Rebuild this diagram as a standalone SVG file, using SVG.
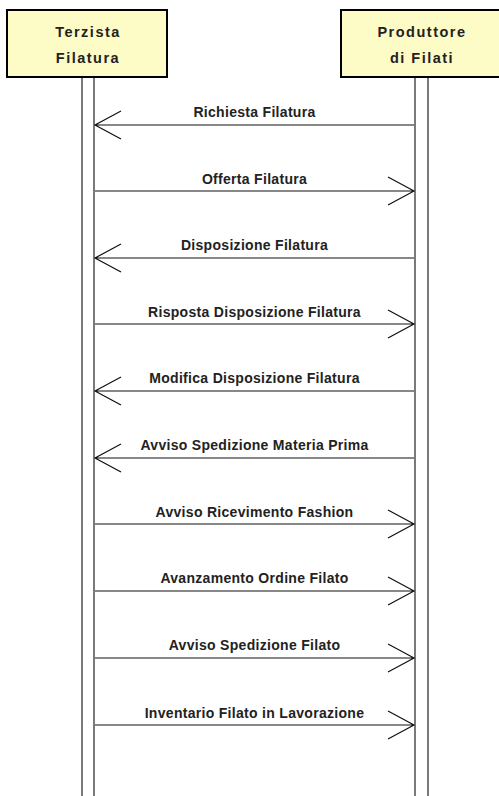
<svg xmlns="http://www.w3.org/2000/svg" width="499" height="796" viewBox="0 0 499 796">
<style>
.box{fill:#fdfbc6;stroke:#000;stroke-width:2}
.life{fill:#fff;stroke:#333;stroke-width:1.3}
.hdr{font-family:"Liberation Sans",Arial,sans-serif;font-size:14.5px;letter-spacing:1.5px;font-weight:bold;fill:#222;text-anchor:middle}
.lbl{font-family:"Liberation Sans",Arial,sans-serif;font-size:14px;letter-spacing:0.3px;font-weight:bold;fill:#222;text-anchor:middle}
.msg{stroke:#111;stroke-width:1.2;fill:none}
</style>
<rect width="499" height="796" fill="#fff"/>
<g id="terzista">
<rect class="life" x="82" y="77" width="12" height="730"/>
<rect class="box" x="7" y="10" width="160" height="67"/>
<text class="hdr" x="88" y="37">Terzista</text>
<text class="hdr" x="88" y="63">Filatura</text>
</g>
<g id="produttore">
<rect class="life" x="415" y="77" width="13" height="730"/>
<rect class="box" x="341" y="10" width="160" height="67"/>
<text class="hdr" x="422" y="37">Produttore</text>
<text class="hdr" x="422" y="63">di Filati</text>
</g>
<g id="connectors">
<path class="msg" d="M414,125H95M121,111L95,125L121,139"/>
<text class="lbl" x="254.5" y="117">Richiesta Filatura</text>
<path class="msg" d="M95,191H414M388,177L414,191L388,205"/>
<text class="lbl" x="254.5" y="184">Offerta Filatura</text>
<path class="msg" d="M414,258H95M121,244L95,258L121,272"/>
<text class="lbl" x="254.5" y="250">Disposizione Filatura</text>
<path class="msg" d="M95,324H414M388,310L414,324L388,338"/>
<text class="lbl" x="254.5" y="317">Risposta Disposizione Filatura</text>
<path class="msg" d="M414,391H95M121,377L95,391L121,405"/>
<text class="lbl" x="254.5" y="383">Modifica Disposizione Filatura</text>
<path class="msg" d="M414,458H95M121,444L95,458L121,472"/>
<text class="lbl" x="254.5" y="450">Avviso Spedizione Materia Prima</text>
<path class="msg" d="M95,524H414M388,510L414,524L388,538"/>
<text class="lbl" x="254.5" y="517">Avviso Ricevimento Fashion</text>
<path class="msg" d="M95,591H414M388,577L414,591L388,605"/>
<text class="lbl" x="254.5" y="583">Avanzamento Ordine Filato</text>
<path class="msg" d="M95,658H414M388,644L414,658L388,672"/>
<text class="lbl" x="254.5" y="650">Avviso Spedizione Filato</text>
<path class="msg" d="M95,725H414M388,711L414,725L388,739"/>
<text class="lbl" x="254.5" y="718">Inventario Filato in Lavorazione</text>
</g>
</svg>
